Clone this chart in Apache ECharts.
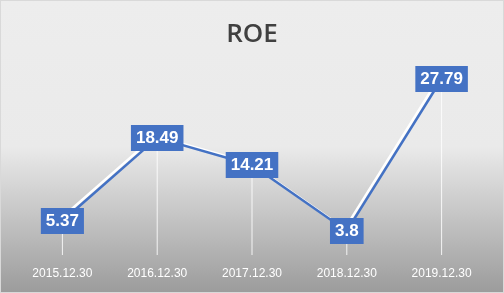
<!DOCTYPE html>
<html><head><meta charset="utf-8">
<script src="https://cdn.jsdelivr.net/npm/echarts@6/dist/echarts.min.js"></script>
<style>html,body{margin:0;padding:0}#c{width:504px;height:293px;box-sizing:border-box;border:1px solid #d9d9d9}</style>
</head><body><div id="c"></div>
<script>
const categories = ['2015.12.30','2016.12.30','2017.12.30','2018.12.30','2019.12.30'];
const roeValues = [5.37, 18.49, 14.21, 3.8, 27.79];
const chart = echarts.init(document.getElementById('c'));
chart.setOption({
  backgroundColor: new echarts.graphic.LinearGradient(0,0,0,1,[
    {offset:0,color:'#ededed'},{offset:0.5,color:'#eaeaea'},{offset:1,color:'#9c9c9c'}]),
  title:{text:'ROE',left:'center',top:16,textStyle:{fontFamily:'Open Sans',fontWeight:600,fontSize:26,color:'#404040'}},
  grid:{left:14,right:14,top:64,bottom:37},
  xAxis:{type:'category',data:categories,boundaryGap:true,
    axisLine:{show:false},axisTick:{show:false},
    axisLabel:{color:'#ffffff',fontFamily:'Liberation Sans',fontSize:12,margin:13,interval:0},
    splitLine:{show:false}},
  yAxis:{type:'value',min:0,max:30,show:false,splitLine:{show:false}},
  series:[
    {type:'bar',data:roeValues,barWidth:1,silent:true,
     itemStyle:{color:'rgba(255,255,255,0.85)'},z:1},
    {type:'line',data:roeValues,symbol:'rect',symbolSize:2,z:3,
    itemStyle:{color:'#4472C4'},
    lineStyle:{color:'#4472C4',width:2.5,shadowColor:'#ffffff',shadowBlur:0,shadowOffsetX:-2,shadowOffsetY:-2},
    label:{show:true,position:'inside',backgroundColor:'#4472C4',color:'#ffffff',
      fontFamily:'Liberation Sans',fontWeight:'bold',fontSize:17,padding:[5,5,4,5]}
  }]
});
</script></body></html>
